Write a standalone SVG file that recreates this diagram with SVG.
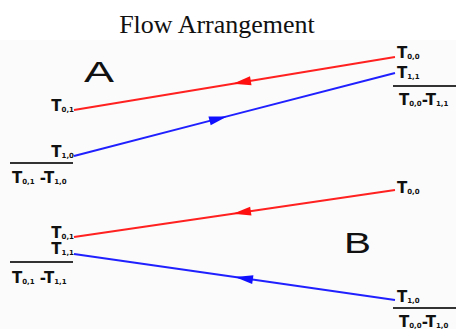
<svg xmlns="http://www.w3.org/2000/svg" width="456" height="329" viewBox="0 0 456 329">
<style>
.t{font-family:"DejaVu Sans","Liberation Sans",sans-serif;font-weight:bold;font-size:15px;fill:#111}
.s{font-size:7px}
.big{font-family:"Liberation Sans",Arial,sans-serif;font-size:30px;fill:#111}
.ttl{font-family:"Liberation Serif","Times New Roman",serif;font-size:26px;fill:#111}
.red{stroke:#ff2020;stroke-width:2;fill:none}
.blue{stroke:#2020ff;stroke-width:2;fill:none}
.bar{stroke:#333;stroke-width:2}
</style>
<defs>
<marker id="ar" viewBox="-19 -5 20 10" refX="0" refY="0" markerWidth="20" markerHeight="10" markerUnits="userSpaceOnUse" orient="auto"><path d="M0,0 L-18,-4.5 L-18,4.5 z" fill="#ff1010"/></marker>
<marker id="ab" viewBox="-19 -5 20 10" refX="0" refY="0" markerWidth="20" markerHeight="10" markerUnits="userSpaceOnUse" orient="auto"><path d="M0,0 L-18,-4.5 L-18,4.5 z" fill="#1010ff"/></marker>
</defs>
<rect x="0" y="0" width="456" height="329" fill="#fff"/>
<rect x="0" y="40" width="456" height="289" fill="#fbfbfb"/>
<text class="ttl" x="217" y="33" text-anchor="middle">Flow Arrangement</text>
<g id="connectors">
<path class="red" d="M395,57 L233,83.7 L74,110" marker-mid="url(#ar)"/>
<path class="blue" d="M74,156 L227,116.4 L395,73" marker-mid="url(#ab)"/>
<path class="red" d="M395,190 L233,213.7 L74,237" marker-mid="url(#ar)"/>
<path class="blue" d="M395,300 L235,277.1 L74,254" marker-mid="url(#ab)"/>
</g>
<g id="labelA"><text class="big" transform="translate(84,82) scale(1.5,1)">A</text></g>
<g id="labelB"><text class="big" transform="translate(344,253) scale(1.35,1)">B</text></g>
<g id="A-left">
<text class="t" x="74" y="111" text-anchor="end">T<tspan class="s" dy="1">0,1</tspan></text>
<text class="t" x="74" y="157" text-anchor="end">T<tspan class="s" dy="1">1,0</tspan></text>
<line class="bar" x1="10" y1="163" x2="73" y2="163"/>
<text class="t" x="12" y="183">T<tspan class="s" dy="1">0,1</tspan><tspan dy="-1"> -T</tspan><tspan class="s" dy="1">1,0</tspan></text>
</g>
<g id="A-right">
<text class="t" x="397" y="58">T<tspan class="s" dy="1">0,0</tspan></text>
<text class="t" x="397" y="78">T<tspan class="s" dy="1">1,1</tspan></text>
<line class="bar" x1="393" y1="86" x2="456" y2="86"/>
<text class="t" x="399" y="105">T<tspan class="s" dy="1">0,0</tspan><tspan dy="-1">-T</tspan><tspan class="s" dy="1">1,1</tspan></text>
</g>
<g id="B-left">
<text class="t" x="74" y="238" text-anchor="end">T<tspan class="s" dy="1">0,1</tspan></text>
<text class="t" x="74" y="254" text-anchor="end">T<tspan class="s" dy="1">1,1</tspan></text>
<line class="bar" x1="10" y1="262" x2="73" y2="262"/>
<text class="t" x="12" y="283">T<tspan class="s" dy="1">0,1</tspan><tspan dy="-1"> -T</tspan><tspan class="s" dy="1">1,1</tspan></text>
</g>
<g id="B-right">
<text class="t" x="397" y="193">T<tspan class="s" dy="1">0,0</tspan></text>
<text class="t" x="397" y="302">T<tspan class="s" dy="1">1,0</tspan></text>
<line class="bar" x1="393" y1="308" x2="456" y2="308"/>
<text class="t" x="399" y="327">T<tspan class="s" dy="1">0,0</tspan><tspan dy="-1">-T</tspan><tspan class="s" dy="1">1,0</tspan></text>
</g>
</svg>
